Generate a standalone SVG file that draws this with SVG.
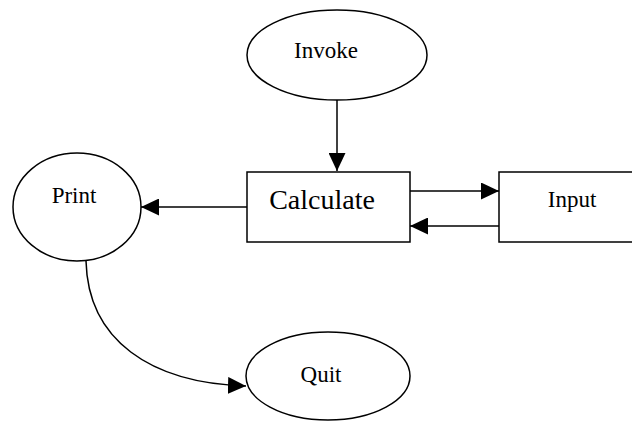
<svg xmlns="http://www.w3.org/2000/svg" width="632" height="422" viewBox="0 0 632 422">
<defs>
<marker id="ah" markerUnits="userSpaceOnUse" markerWidth="18" markerHeight="17" refX="18" refY="8.5" orient="auto">
<path d="M0,0 L18,8.5 L0,17 z" fill="#000"/>
</marker>
<style>
.n{fill:#fff;stroke:#000;stroke-width:1.5}
.t{font-family:"Liberation Serif","Times New Roman",serif;font-size:23px;fill:#000;text-anchor:middle}
.c{fill:none;stroke:#000;stroke-width:1.5;marker-end:url(#ah)}
</style>
</defs>
<rect width="632" height="422" fill="#fff"/>
<g id="connectors">
<path class="c" d="M337,100 L337,171"/>
<path class="c" d="M247,207 L141,207"/>
<path class="c" d="M410,191 L499,191"/>
<path class="c" d="M499,226 L410,226"/>
<path class="c" d="M86,261 C88,340 150,383 246,386"/>
</g>
<g id="invoke">
<ellipse class="n" cx="337" cy="55" rx="90" ry="45"/>
<text class="t" x="326" y="58">Invoke</text>
</g>
<g id="calculate">
<rect class="n" x="247" y="172" width="163" height="70"/>
<text class="t" x="322" y="209" style="font-size:28px">Calculate</text>
</g>
<g id="input">
<rect class="n" x="499" y="172" width="140" height="70"/>
<text class="t" x="572" y="207">Input</text>
</g>
<g id="print">
<ellipse class="n" cx="77" cy="207" rx="64" ry="54"/>
<text class="t" x="74" y="203">Print</text>
</g>
<g id="quit">
<ellipse class="n" cx="328" cy="376" rx="82" ry="44"/>
<text class="t" x="321" y="382">Quit</text>
</g>
</svg>
